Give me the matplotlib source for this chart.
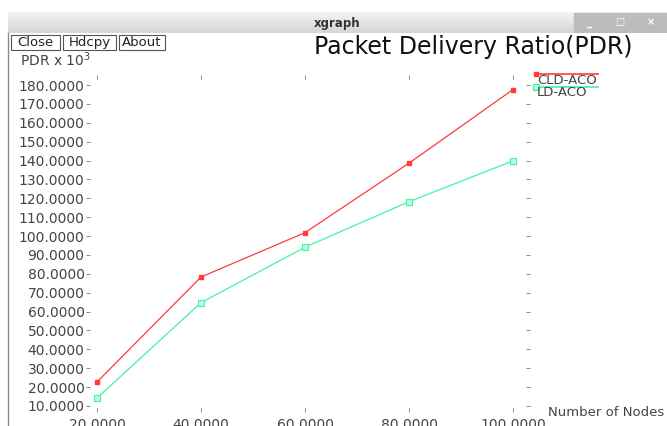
import matplotlib.pyplot as plt
import numpy as np
from matplotlib.patches import Rectangle

plt.rcParams['font.family'] = ['DejaVu Sans']

nodes = [20, 40, 60, 80, 100]
cld_aco = [22.7, 78.3, 101.8, 138.6, 177.6]
ld_aco = [14.2, 64.7, 94.1, 118.2, 139.8]
y_ticks = [10, 20, 30, 40, 50, 60, 70, 80, 90, 100, 110, 120, 130, 140, 150, 160, 170, 180]

W, H = 667, 426
RED = '#ff3b3b'
GREEN = '#3ff5a0'
TXT = '#444444'


def px(x, y):
    # pixel coords (top-left origin) -> figure fraction
    return x / W, 1 - y / H


fig = plt.figure(figsize=(W / 100, H / 100), dpi=100)
fig.patch.set_facecolor('white')

# window frame (title bar + left border)
bar = fig.add_axes([8 / W, 1 - 33 / H, (W - 8) / W, 21 / H])
grad = np.linspace(0.95, 0.84, 20).reshape(-1, 1)
bar.imshow(grad, aspect='auto', cmap='gray', vmin=0, vmax=1, extent=[0, 1, 0, 1])
bar.set_xlim(0, 1)
bar.set_ylim(0, 1)
bar.axis('off')
bar.text(0.5, 0.45, 'xgraph', ha='center', va='center', fontsize=8.5,
         fontweight='bold', color='#333333')
for i, sym in enumerate(['_', '□', '×']):
    x0 = 1 - (3 - i) * 31 / (W - 8)
    bar.add_patch(Rectangle((x0, 0.05), 30 / (W - 8), 0.9, color='#bcbcbc'))
    bar.text(x0 + 15 / (W - 8), 0.5, sym, ha='center', va='center',
             fontsize=7, color='white', fontweight='bold')
fig.add_artist(plt.Line2D([8 / W, 8 / W], [0, 1 - 33 / H], color='#888888', lw=1))

# buttons
for label, x0, x1 in [('Close', 11, 60), ('Hdcpy', 63, 116), ('About', 119, 165)]:
    fig.add_artist(Rectangle(px(x0, 50), (x1 - x0) / W, 15 / H, fill=False,
                             edgecolor='#555555', lw=0.8))
    fig.text(*px((x0 + x1) / 2, 42.5), label, ha='center', va='center',
             fontsize=9.5, color='#222222')

fig.text(*px(473, 47), 'Packet Delivery Ratio(PDR)', ha='center', va='center',
         fontsize=17, color='#111111')
fig.text(*px(20, 60), r'PDR x 10$^3$', ha='left', va='center', fontsize=10,
         color=TXT)
fig.text(*px(548, 412), 'Number of Nodes', ha='left', va='center',
         fontsize=9.5, color=TXT)

# plot area
ax = fig.add_axes([86 / W, 1 - 412 / H, (530 - 86) / W, (412 - 75) / H])
ax.set_xlim(17.88, 103.27)
ax.set_ylim(6.8, 185.3)
for s in ax.spines.values():
    s.set_visible(False)

ax.plot(nodes, cld_aco, color=RED, lw=0.9, marker='s', ms=2.5,
        mfc=RED, mec=RED)
ax.plot(nodes, ld_aco, color=GREEN, lw=0.9, marker='s', ms=4,
        mfc='#bfffe0', mec=GREEN, mew=0.8)

ax.set_yticks(y_ticks)
ax.set_yticklabels(['%.4f' % v for v in y_ticks])
ax.set_xticks(nodes)
ax.set_xticklabels(['%.4f' % v for v in nodes])
ax.tick_params(axis='y', left=True, right=True, direction='in', length=3,
               width=0.6, color='#777777', labelsize=10, labelcolor=TXT, pad=1)
ax.tick_params(axis='x', top=True, bottom=True, direction='in', length=3,
               width=0.6, color='#777777', labelsize=10, labelcolor=TXT, pad=4)

# legend drawn by hand in xgraph style
for y0, lab, col, ms, mfc in [(74, 'CLD-ACO', RED, 2.5, RED),
                              (87, 'LD-ACO', GREEN, 4, '#bfffe0')]:
    xa, ya = px(536, y0)
    xb, _ = px(598, y0)
    fig.add_artist(plt.Line2D([xa, xb], [ya, ya], color=col, lw=1.2,
                              marker='s', markevery=[0], ms=ms, mfc=mfc,
                              mec=col))
    fig.text(*px(537, y0 + 6), lab, ha='left', va='center', fontsize=9.5,
             color=TXT)

fig.savefig('out.png', dpi=100)
